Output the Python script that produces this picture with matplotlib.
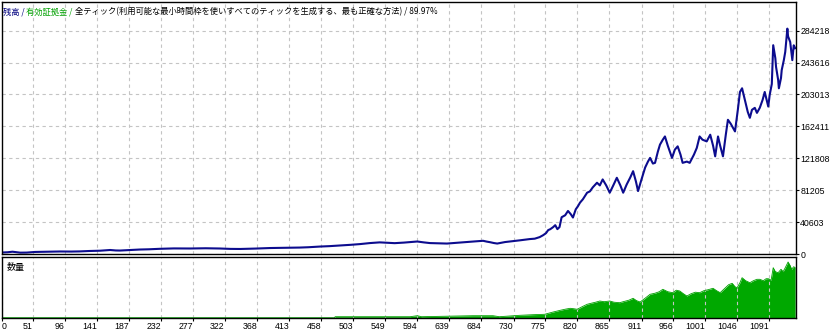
import matplotlib
matplotlib.use('Agg')
import matplotlib.pyplot as plt

# ---------------- data ----------------
trades = [7, 15, 22, 27, 33, 42, 54, 70, 89, 105, 117, 130, 146, 160, 168, 174, 188, 202,
          215, 230, 250, 273, 295, 315, 330, 344, 365, 386, 405, 428, 440, 457, 470, 485,
          500, 513, 527, 541, 550, 562, 575, 584, 594, 603, 612, 625, 636, 650, 661, 675,
          687, 692, 697, 702, 707, 712, 718, 724, 729, 735, 739, 746, 753, 760, 767,
          772, 776, 779, 782, 786, 789, 792, 795, 798, 803, 807, 811, 814, 818, 821, 824,
          828, 834, 838, 842, 848, 852, 856, 861, 866, 871, 876, 881, 885, 890, 895, 899,
          903, 906, 910, 916, 920, 923, 927, 930, 934, 937, 941, 944, 948, 951, 954, 958,
          962, 966, 969, 975, 979, 985, 989, 993, 997, 1003, 1008, 1012, 1015, 1019, 1022,
          1026, 1030, 1033, 1037, 1043, 1047, 1050, 1053, 1057, 1061, 1064, 1067, 1071,
          1074, 1078, 1082, 1085, 1090, 1092, 1095, 1097, 1100, 1101, 1104, 1105, 1108,
          1109, 1112, 1114, 1117, 1118, 1121, 1124, 1126, 1128]
equity = [1900, 2200, 2900, 2300, 1700, 1800, 2600, 2900, 3200, 3100, 3300, 3800, 4200,
          5100, 4500, 4400, 5000, 5700, 6000, 6600, 7100, 7000, 7300, 7000, 6500, 6400,
          6900, 7600, 7900, 8200, 8600, 9500, 10000, 10800, 11700, 12600, 13900, 14800,
          14400, 13800, 14500, 15200, 15900, 14800, 13900, 13600, 13300, 14300, 15200,
          16000, 16800, 15800, 15000, 14000, 13300, 14200, 15200, 15800, 16400, 17000,
          17400, 18200, 19000, 19500, 21500,
          24000, 26600, 30400, 31600, 34200, 36700, 31600, 34200, 46800, 49300, 54800,
          50600, 46400, 56900, 60700, 65400, 69600, 78000, 79700, 84800, 90700, 87300,
          94900, 87300, 78000, 87300, 97000, 87300, 78000, 88600, 97400, 105400, 92300,
          80100, 92300, 110000, 117600, 122300, 115100, 116000, 130300, 139200, 145500,
          149600, 137900, 130300, 122300, 132800, 137000, 126500, 116000, 117600, 116000,
          126500, 135000, 149600, 145500, 143300, 151800, 137900, 124300, 149600, 137900,
          124300, 151800, 170800, 165700, 156000, 183500, 206200, 210900, 196100, 180900,
          173300, 183500, 186000, 179600, 186000, 196100, 206200, 187600, 202400, 216300,
          265700, 249200, 238200, 221400, 210900, 224000, 234000, 246700, 257200, 286800,
          277000, 269800, 246700, 265600, 261900]

vol_trades = [7, 477, 478, 584, 594, 600, 673, 701, 710, 739, 757, 774, 785, 796, 803,
              810, 815, 820, 827, 834, 840, 846, 852, 858, 866, 872, 880, 886, 893, 899,
              904, 909, 916, 923, 930, 936, 941, 948, 955, 960, 965, 970, 975, 981, 987,
              993, 999, 1005, 1012, 1017, 1022, 1028, 1034, 1039, 1043, 1046, 1050, 1053,
              1058, 1064, 1069, 1074, 1078, 1083, 1087, 1090, 1094, 1097, 1100, 1104, 1108,
              1111, 1114, 1118, 1121, 1123, 1126, 1128]
vol_lots = [0.0, 0.0, 0.1, 0.1, 0.2, 0.1, 0.2, 0.2, 0.1, 0.24, 0.3, 0.34, 0.55, 0.74,
            0.85, 0.94, 0.9, 0.84, 1.1, 1.34, 1.45, 1.55, 1.67, 1.6, 1.67, 1.55, 1.5, 1.62,
            1.75, 1.94, 1.7, 1.57, 1.95, 2.34, 2.45, 2.6, 2.84, 2.6, 2.5, 2.75, 2.67, 2.4,
            2.17, 2.4, 2.55, 2.5, 2.7, 2.8, 2.94, 2.7, 2.5, 2.9, 3.3, 3.44, 3.1, 3.0, 3.5,
            4.0, 3.7, 3.5, 3.7, 3.84, 3.84, 3.7, 3.9, 3.9, 3.75, 5.0, 4.6, 4.5, 4.84, 4.6,
            5.0, 5.57, 5.2, 4.84, 5.1, 5.0]

x_tick_values = [51, 96, 141, 187, 232, 277, 322, 368, 413, 458, 503, 549, 594, 639,
                 684, 730, 775, 820, 865, 911, 956, 1001, 1046, 1091]
y_tick_values = [0, 40603, 81205, 121808, 162411, 203013, 243616, 284218]

title_parts = [("残高 / ", "#000080"), ("有効証拠金 / ", "#00a000"),
               ("全ティック(利用可能な最小時間枠を使いすべてのティックを生成する、最も正確な方法) / 89.97%", "black")]

# ---------------- layout ----------------
W, H = 834, 330
fig = plt.figure(figsize=(W / 100, H / 100), dpi=100)
fig.patch.set_facecolor('white')

x_left, x_right = 7.2, 1129.2
grid_kw = dict(color='#c4c4c4', linestyle=(0, (3, 3)), linewidth=0.8)
tick_font = dict(family='Liberation Sans', size=6.3)

ax = fig.add_axes([2 / W, (H - 254) / H, 794 / W, 252 / H])
ax.plot(trades, equity, color='#0c0c8e', linewidth=1.5, solid_joinstyle='round')
ax.set_xlim(x_left, x_right)
ax.set_ylim(0, 320700)
ax.set_xticks(x_tick_values)
ax.set_xticklabels([])
ax.tick_params(axis='x', length=0)
ax.yaxis.tick_right()
ax.set_yticks(y_tick_values)
ax.set_yticklabels([str(v) for v in y_tick_values], fontdict=tick_font)
ax.tick_params(axis='y', length=2.2, width=0.8, pad=0.8)
ax.grid(True, **grid_kw)
for s in ax.spines.values():
    s.set_linewidth(1.0)
    s.set_color('black')

axv = fig.add_axes([2 / W, (H - 317.7) / H, 794 / W, 61 / H])
axv.fill_between(vol_trades, 0, vol_lots, color='#00a800', linewidth=0)
axv.plot(vol_trades, vol_lots, color='#00a000', linewidth=0.6)
axv.set_xlim(x_left, x_right)
axv.set_ylim(0, 6.1)
axv.set_yticks([])
axv.set_xticks([x_left] + x_tick_values)
labels = axv.set_xticklabels(['0'] + [str(v) for v in x_tick_values], fontdict=tick_font,
                             ha='right')
labels[0].set_ha('left')
axv.tick_params(axis='x', length=2, width=0.8, pad=0.8)
axv.xaxis.grid(True, **grid_kw)
for s in axv.spines.values():
    s.set_linewidth(1.0)
    s.set_color('black')
axv.text(5 / 794, 0.82, '数量', transform=axv.transAxes,
         family=['Noto Sans CJK JP', 'DejaVu Sans'], size=6.5, ha='left', va='center')

# multi-coloured title
fig.canvas.draw()
renderer = fig.canvas.get_renderer()
xpix = 3
for txt, col in title_parts:
    t = fig.text(xpix / W, (H - 11.5) / H, txt, color=col, size=5.95,
                 family=['Noto Sans CJK JP', 'DejaVu Sans'], ha='left', va='center')
    bb = t.get_window_extent(renderer)
    xpix = bb.x1

fig.savefig('out.png', dpi=100, facecolor='white')
